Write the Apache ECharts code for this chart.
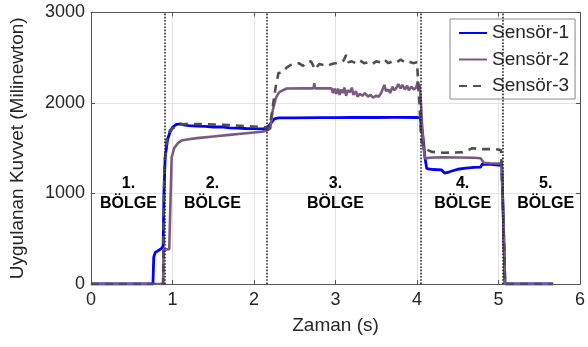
<!DOCTYPE html>
<html>
<head>
<meta charset="utf-8">
<script src="https://cdn.jsdelivr.net/npm/echarts@6/dist/echarts.min.js"></script>
<style>
    html, body { margin: 0; padding: 0; background: #fff; }
    #chart { width: 588px; height: 347px; }
</style>
</head>
<body>
<div id="chart"></div>
<script>
// seri isimleri
const seriesNames = ['Sensör-1', 'Sensör-2', 'Sensör-3']
// [zaman (s), kuvvet (mN)]
const sensor1 = [
    [0, 0], [0.76, 0], [0.77, 300], [0.79, 350], [0.87, 395], [0.885, 420], [0.895, 1000],
    [0.91, 1400], [0.94, 1600], [0.97, 1680], [1.0, 1730], [1.05, 1765], [1.1, 1770],
    [1.15, 1755], [1.2, 1750], [1.3, 1745], [1.4, 1742], [1.5, 1735], [1.6, 1735],
    [1.7, 1725], [1.8, 1722], [1.9, 1718], [2.0, 1716], [2.1, 1715], [2.16, 1720],
    [2.2, 1770], [2.25, 1825], [2.3, 1835], [2.5, 1835], [2.8, 1838], [3.0, 1838],
    [3.2, 1840], [3.22, 1825], [3.24, 1840], [3.5, 1840], [3.7, 1842], [3.72, 1828],
    [3.74, 1842], [4.0, 1840], [4.04, 1835], [4.07, 1650], [4.1, 1380], [4.12, 1275],
    [4.2, 1265], [4.3, 1262], [4.34, 1225], [4.4, 1240], [4.5, 1268], [4.6, 1280],
    [4.7, 1288], [4.78, 1292], [4.8, 1325], [4.9, 1322], [5.0, 1315], [5.04, 1310],
    [5.06, 700], [5.08, 0], [5.67, 0]
]
const sensor2 = [
    [0, 0], [0.885, 0], [0.89, 380], [0.96, 385], [0.975, 900], [0.99, 1400],
    [1.02, 1500], [1.06, 1550], [1.11, 1585], [1.2, 1600], [1.3, 1612], [1.5, 1630],
    [1.7, 1648], [1.9, 1665], [2.1, 1682], [2.16, 1695], [2.2, 1720], [2.23, 1920],
    [2.27, 2060], [2.31, 2120], [2.4, 2160], [2.6, 2162], [2.73, 2162], [2.74, 2220],
    [2.75, 2162], [2.95, 2162], [2.97, 2110], [2.99, 2160], [3.01, 2100], [3.03, 2160],
    [3.05, 2090], [3.07, 2150], [3.09, 2110], [3.11, 2170], [3.13, 2080], [3.15, 2140],
    [3.18, 2120], [3.2, 2170], [3.22, 2090], [3.25, 2130], [3.27, 2070], [3.3, 2100],
    [3.33, 2080], [3.36, 2110], [3.4, 2070], [3.43, 2090], [3.46, 2060], [3.5, 2080],
    [3.53, 2070], [3.56, 2110], [3.58, 2090], [3.6, 2200], [3.62, 2130], [3.65, 2150],
    [3.67, 2110], [3.7, 2180], [3.72, 2140], [3.75, 2170], [3.77, 2210], [3.8, 2160],
    [3.82, 2200], [3.85, 2150], [3.88, 2190], [3.9, 2140], [3.93, 2180], [3.96, 2150],
    [3.99, 2170], [4.01, 2240], [4.02, 2130], [4.03, 2200], [4.045, 2060], [4.06, 1800],
    [4.08, 1500], [4.1, 1385], [4.15, 1395], [4.3, 1400], [4.5, 1398], [4.7, 1395],
    [4.78, 1390], [4.82, 1340], [4.9, 1335], [5.0, 1332], [5.04, 1335], [5.06, 700],
    [5.08, 0], [5.67, 0]
]
const sensor3 = [
    [0, 0], [0.885, 0], [0.89, 600], [0.9, 1300], [0.93, 1600], [0.97, 1700],
    [1.05, 1745], [1.1, 1762], [1.2, 1770], [1.3, 1768], [1.5, 1762], [1.7, 1755],
    [1.9, 1745], [2.1, 1735], [2.16, 1730], [2.19, 1720], [2.22, 1900], [2.27, 2200],
    [2.3, 2330], [2.35, 2340], [2.4, 2390], [2.45, 2420], [2.5, 2430], [2.55, 2440],
    [2.6, 2410], [2.65, 2450], [2.7, 2460], [2.75, 2370], [2.8, 2430], [2.85, 2420],
    [2.9, 2410], [2.95, 2430], [3.0, 2440], [3.05, 2450], [3.1, 2470], [3.13, 2530],
    [3.16, 2450], [3.2, 2460], [3.25, 2440], [3.3, 2470], [3.35, 2440], [3.4, 2450],
    [3.45, 2430], [3.5, 2460], [3.55, 2450], [3.6, 2480], [3.65, 2440], [3.7, 2460],
    [3.75, 2450], [3.8, 2480], [3.85, 2450], [3.9, 2460], [3.95, 2440], [4.0, 2450],
    [4.02, 2430], [4.03, 2000], [4.05, 1600], [4.09, 1500], [4.18, 1460], [4.32, 1450],
    [4.56, 1455], [4.68, 1500], [4.8, 1490], [4.96, 1490], [5.03, 1480], [5.06, 700],
    [5.08, 0], [5.67, 0]
]
// bolge sinirlari (s)
const regionBounds = [0.9, 2.16, 4.05, 5.05]
// bolge yazilari
const regionX = [0.46, 1.49, 3.0, 4.56, 5.58]
const regionLabels = ['1.\nBÖLGE', '2.\nBÖLGE', '3.\nBÖLGE', '4.\nBÖLGE', '5.\nBÖLGE']
const xTicks = [0, 6, 1]
const yTicks = [0, 3000, 1000]

const font = "'Liberation Sans', Arial, sans-serif"
const axisColor = '#555'
const textColor = '#262626'

let myChart = echarts.init(document.getElementById('chart'))

const lineBase = {
    type: 'line',
    symbol: 'none',
    showSymbol: false,
    animation: false,
    xAxisIndex: 0,
    yAxisIndex: 0
}

myChart.setOption({
    animation: false,
    textStyle: { fontFamily: font },
    grid: { left: 88, right: 1, top: 12.5, bottom: 63 },
    legend: {
        data: seriesNames,
        orient: 'vertical',
        left: 450,
        top: 19,
        padding: [1, 6, 0, 8],
        itemGap: 0.5,
        itemWidth: 28,
        itemHeight: 14,
        itemStyle: { opacity: 0 }, // sadece cizgi gorunsun
        backgroundColor: '#fff',
        borderColor: '#8c8c8c',
        borderWidth: 1,
        textStyle: { fontSize: 19, color: textColor, fontFamily: font, lineHeight: 26 }
    },
    xAxis: [{
        type: 'value',
        min: xTicks[0],
        max: xTicks[1],
        interval: xTicks[2],
        name: 'Zaman (s)',
        nameLocation: 'middle',
        nameGap: 32,
        nameTextStyle: { fontSize: 19, color: textColor },
        axisLine: { show: true, onZero: false, lineStyle: { color: axisColor, width: 1 } },
        axisTick: { show: true, inside: true, length: 4, lineStyle: { color: axisColor } },
        axisLabel: { fontSize: 18, color: textColor, margin: 7 },
        splitLine: { show: true, lineStyle: { color: '#e3e3e3', width: 1 } }
    }, {
        type: 'value',
        position: 'top',
        min: xTicks[0],
        max: xTicks[1],
        interval: xTicks[2],
        axisLine: { show: true, onZero: false, lineStyle: { color: axisColor, width: 1 } },
        axisTick: { show: true, inside: true, length: 4, lineStyle: { color: axisColor } },
        axisLabel: { show: false },
        splitLine: { show: false }
    }],
    yAxis: [{
        type: 'value',
        min: yTicks[0],
        max: yTicks[1],
        interval: yTicks[2],
        name: 'Uygulanan Kuvvet (Milinewton)',
        nameLocation: 'middle',
        nameGap: 64,
        nameTextStyle: { fontSize: 19, color: textColor },
        axisLine: { show: true, onZero: false, lineStyle: { color: axisColor, width: 1 } },
        axisTick: { show: true, inside: true, length: 4, lineStyle: { color: axisColor } },
        axisLabel: { fontSize: 18, color: textColor, margin: 6, formatter: v => String(v) },
        splitLine: { show: true, lineStyle: { color: '#e3e3e3', width: 1 } }
    }, {
        type: 'value',
        position: 'right',
        min: yTicks[0],
        max: yTicks[1],
        interval: yTicks[2],
        axisLine: { show: true, onZero: false, lineStyle: { color: axisColor, width: 1 } },
        axisTick: { show: true, inside: true, length: 4, lineStyle: { color: axisColor } },
        axisLabel: { show: false },
        splitLine: { show: false }
    }],
    series: [
        // bolge sinirlari - noktali dikey cizgiler
        {
            type: 'line',
            data: [],
            silent: true,
            markLine: {
                symbol: 'none',
                silent: true,
                label: { show: false },
                lineStyle: { color: '#222', type: 'dotted', width: 1.6 },
                data: regionBounds.map(x => [{ coord: [x, 0] }, { coord: [x, 3000] }])
            }
        },
        // bolge yazilari
        {
            type: 'scatter',
            symbolSize: 0,
            silent: true,
            itemStyle: { opacity: 1 },
            data: regionX.map((x, i) => ({ value: [x, 995], name: regionLabels[i] })),
            label: {
                show: true,
                position: 'inside',
                formatter: p => p.name,
                fontSize: 16,
                fontWeight: 'bold',
                color: '#000',
                opacity: 1,
                lineHeight: 20,
                align: 'center'
            }
        },
        Object.assign({}, lineBase, {
            name: seriesNames[0],
            data: sensor1,
            color: '#0000ff',
            lineStyle: { color: '#0000ff', width: 2.8 }
        }),
        Object.assign({}, lineBase, {
            name: seriesNames[1],
            data: sensor2,
            color: '#7b5a7f',
            lineStyle: { color: '#7b5a7f', width: 2.6 }
        }),
        Object.assign({}, lineBase, {
            name: seriesNames[2],
            data: sensor3,
            color: '#4f4f4f',
            lineStyle: { color: '#4f4f4f', width: 2.6, type: [8, 6] }
        })
    ]
})
</script>
</body>
</html>
